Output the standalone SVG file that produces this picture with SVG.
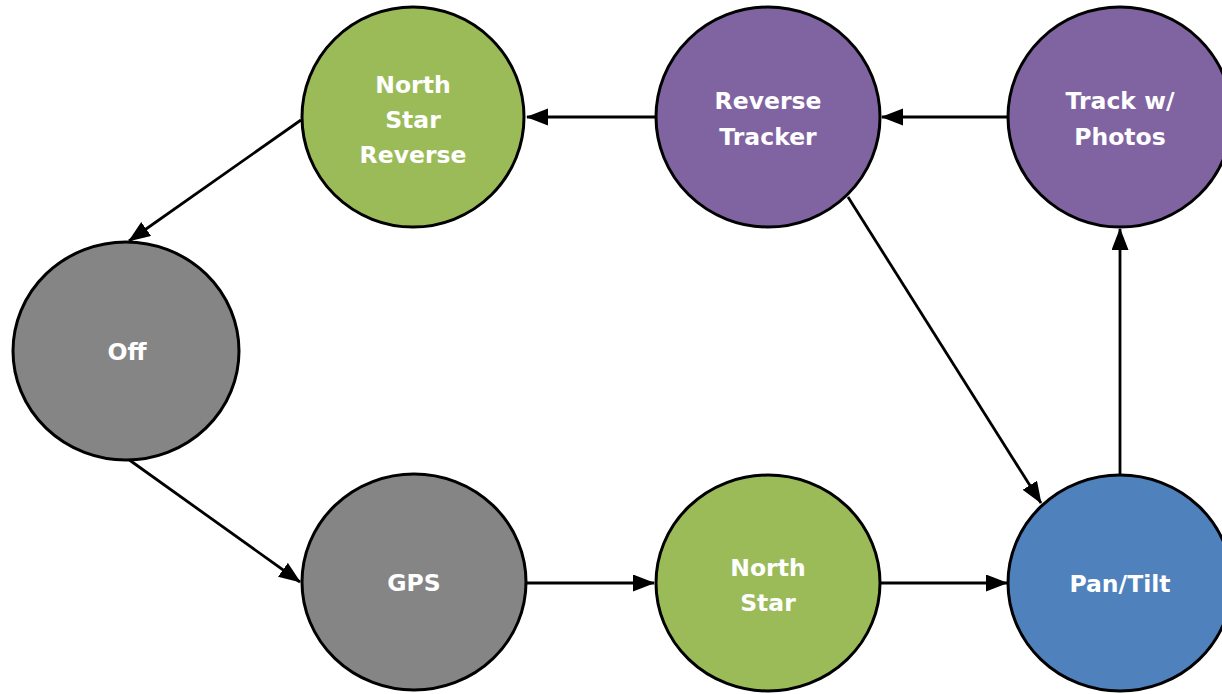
<svg xmlns="http://www.w3.org/2000/svg" width="1222" height="694" viewBox="0 0 1222 694">
<style>
.node ellipse{stroke:#000;stroke-width:3}
.green{fill:#9BBB59}
.purple{fill:#8064A2}
.gray{fill:#858585}
.blue{fill:#4F81BD}
.lbl{font-family:"DejaVu Sans",Verdana,sans-serif;font-weight:bold;font-size:23.5px;fill:#fff;text-anchor:middle}
.conn line{stroke:#000;stroke-width:2.8;marker-end:url(#arr)}
</style>
<defs>
<marker id="arr" markerUnits="userSpaceOnUse" markerWidth="24" markerHeight="20" refX="21" refY="8.5" orient="auto">
<path d="M0,0 L22,8.5 L0,17 Z" fill="#000"/>
</marker>
</defs>
<rect width="1222" height="694" fill="#fff"/>
<g id="connectors" class="conn">
<line x1="655" y1="117" x2="527" y2="117"/>
<line x1="1008" y1="117" x2="882" y2="117"/>
<line x1="301" y1="120" x2="129" y2="241"/>
<line x1="128" y1="459" x2="300" y2="582"/>
<line x1="527" y1="583" x2="654" y2="583"/>
<line x1="880" y1="583" x2="1007" y2="583"/>
<line x1="1120" y1="475" x2="1120" y2="229"/>
<line x1="848" y1="197" x2="1041" y2="503"/>
</g>
<g id="north-star-reverse" class="node"><ellipse class="green" cx="413" cy="117" rx="111" ry="110"/>
<text class="lbl" x="413" y="93">North</text><text class="lbl" x="413" y="128">Star</text><text class="lbl" x="413" y="163">Reverse</text></g>
<g id="reverse-tracker" class="node"><ellipse class="purple" cx="768" cy="117" rx="112" ry="110"/>
<text class="lbl" x="768" y="109">Reverse</text><text class="lbl" x="768" y="145">Tracker</text></g>
<g id="track-photos" class="node"><ellipse class="purple" cx="1120" cy="117" rx="112" ry="110"/>
<text class="lbl" x="1120" y="109">Track w/</text><text class="lbl" x="1120" y="145">Photos</text></g>
<g id="off" class="node"><ellipse class="gray" cx="126" cy="351" rx="113" ry="109"/>
<text class="lbl" x="127" y="360">Off</text></g>
<g id="gps" class="node"><ellipse class="gray" cx="414" cy="582" rx="112" ry="108"/>
<text class="lbl" x="414" y="591">GPS</text></g>
<g id="north-star" class="node"><ellipse class="green" cx="768" cy="583" rx="112" ry="108"/>
<text class="lbl" x="768" y="576">North</text><text class="lbl" x="768" y="611">Star</text></g>
<g id="pan-tilt" class="node"><ellipse class="blue" cx="1120" cy="583" rx="112" ry="108"/>
<text class="lbl" x="1120" y="592">Pan/Tilt</text></g>
</svg>
